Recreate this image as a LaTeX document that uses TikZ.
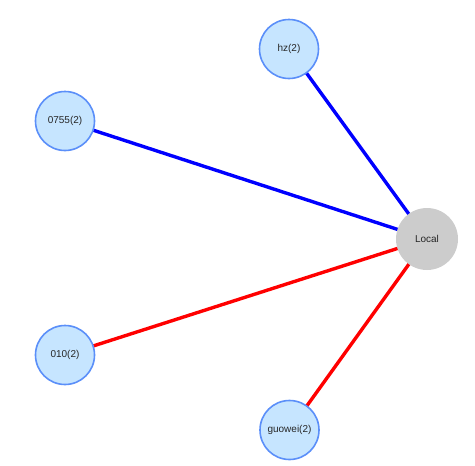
\documentclass[tikz,border=0pt]{standalone}
\usepackage{fontspec}
\setmainfont{Liberation Sans}
\usetikzlibrary{backgrounds}
\definecolor{nodefill}{HTML}{C6E5FF}
\definecolor{nodeborder}{HTML}{5B8FF9}
\definecolor{localfill}{HTML}{CCCCCC}
\tikzset{
  peer/.style={circle, draw=nodeborder, fill=nodefill, line width=1.6pt, minimum size=59pt, inner sep=0pt, font=\fontsize{10}{11}\selectfont, text=black!85},
  hub/.style={circle, fill=localfill, minimum size=62pt, inner sep=0pt, font=\fontsize{10}{11}\selectfont, text=black!85},
  blueedge/.style={draw=blue, line width=3.4pt},
  rededge/.style={draw=red, line width=3.4pt}
}
\begin{document}
\begin{tikzpicture}[x=1pt,y=-1pt]
\useasboundingbox (0,0) rectangle (475,466);
\node[hub] (local) at (427,239) {Local};
\node[peer] (hz) at (289,49) {hz(2)};
\node[peer] (p0755) at (65,121) {0755(2)};
\node[peer] (p010) at (65,355) {010(2)};
\node[peer] (guowei) at (289.5,430) {guowei(2)};
\begin{scope}[on background layer]
\draw[blueedge] (hz.center) -- (local.center);
\draw[blueedge] (p0755.center) -- (local.center);
\draw[rededge] (p010.center) -- (local.center);
\draw[rededge] (guowei.center) -- (local.center);
\end{scope}
\end{tikzpicture}
\end{document}
